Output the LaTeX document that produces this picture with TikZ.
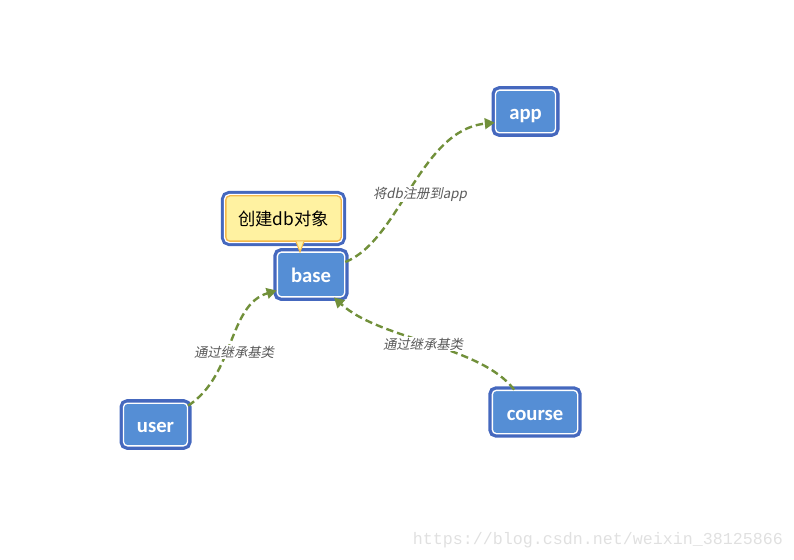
\documentclass[tikz,border=0pt]{standalone}
\usepackage{fontspec}
\setmainfont{Carlito}
\newfontfamily\cjk{Noto Sans CJK SC}
\newfontfamily\cjkit[FakeSlant=0.2]{Noto Sans CJK SC}
\newfontfamily\wmfont{Liberation Mono}
\usetikzlibrary{arrows.meta}
\definecolor{frameblue}{HTML}{4568BE}
\definecolor{boxblue}{HTML}{558ED5}
\definecolor{noteyellow}{HTML}{FFF2A1}
\definecolor{noteorange}{HTML}{F4B84A}
\definecolor{linkgreen}{HTML}{71903A}
\definecolor{labelgray}{HTML}{595959}
\begin{document}
\begin{tikzpicture}[x=0.75pt,y=-0.75pt,
    box/.style={rounded corners=3pt, fill=boxblue, draw=white, line width=1pt,
        preaction={draw=frameblue, line width=6pt}, inner sep=0pt,
        text height=14pt, text depth=2pt,
        text=white, font=\fontsize{15.5}{18}\selectfont\bfseries},
    note/.style={rounded corners=3pt, fill=noteyellow, draw=noteorange, line width=1pt,
        preaction={draw=frameblue, line width=7.5pt},
        preaction={draw=white, line width=3pt}, inner sep=0pt,
        font=\fontsize{13}{15}\cjk},
    link/.style={linkgreen, line width=1.8pt, dash pattern=on 5.5pt off 3pt,
        -{Triangle[length=7.5pt,width=8pt]}},
    linklabel/.style={fill=white, inner sep=1pt, text=labelgray,
        font=\fontsize{10}{12}\cjkit}]
    \useasboundingbox (0,0) rectangle (794,560);

    % boxes
    \node [box, minimum width=45pt, minimum height=32pt] (app) at (525.5,111.5) {app};
    \node [box, minimum width=50.5pt, minimum height=33.5pt] (base) at (311,274.5) {base};
    \node [box, minimum width=48pt, minimum height=32pt] (user) at (155.5,424.5) {user};
    \node [box, minimum width=64pt, minimum height=32.5pt] (course) at (535,412) {course};
    \node [note, minimum width=86.5pt, minimum height=34pt] (dbnote) at (283.5,218.5) {创建db对象};
    \filldraw [noteorange, fill=noteyellow, line width=0.8pt] (296,241.5)--(300,252)--(304,241.5);

    % links
    \draw [link] (user.30) .. controls (235,375) and (228,305) .. (base.205);
    \draw [link] (course.133) .. controls (480,345) and (380,340) .. (base.-45);
    \draw [link] (base.20) .. controls (400,240) and (420,130) .. (app.200);
    \node [linklabel] (inherituser) at (234,352) {通过继承基类};
    \node [linklabel] (inheritcourse) at (423,344) {通过继承基类};
    \node [linklabel] (register) at (420,194) {将db注册到app};

    \node [text=black!12, font=\fontsize{12.5}{14}\wmfont] (watermark) at (598,540) {https://blog.csdn.net/weixin\_38125866};
\end{tikzpicture}
\end{document}
